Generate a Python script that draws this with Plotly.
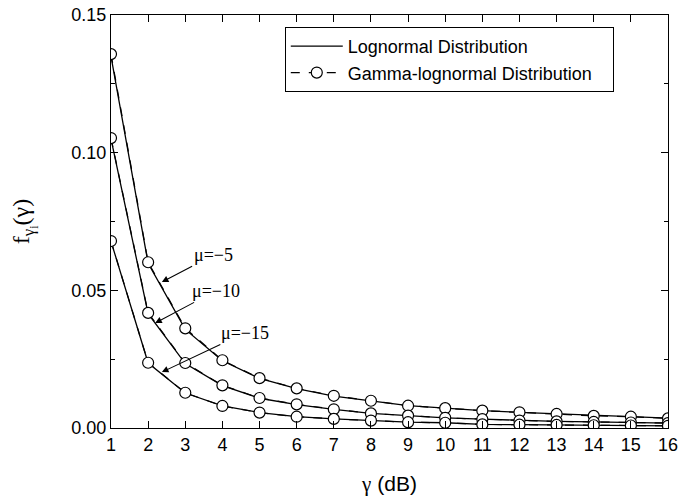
import plotly.graph_objects as go

gamma_db = list(range(1, 17))

logn_mu5 = [0.1350, 0.0598, 0.0358, 0.0244, 0.0180, 0.0143, 0.0116, 0.0098, 0.0081, 0.0072, 0.0063, 0.0057, 0.0051, 0.0045, 0.0041, 0.0036]
logn_mu10 = [0.1050, 0.0415, 0.0234, 0.0154, 0.0108, 0.0085, 0.0068, 0.0053, 0.0045, 0.0037, 0.0032, 0.0027, 0.0024, 0.0022, 0.0020, 0.0018]
logn_mu15 = [0.0678, 0.0236, 0.0127, 0.0080, 0.0056, 0.0041, 0.0033, 0.0027, 0.0021, 0.0019, 0.0013, 0.0012, 0.0011, 0.0010, 0.0009, 0.0008]

gl_mu5 = [0.1358, 0.0602, 0.0362, 0.0246, 0.0181, 0.0144, 0.0117, 0.0099, 0.0081, 0.0072, 0.0063, 0.0057, 0.0051, 0.0044, 0.0041, 0.0035]
gl_mu10 = [0.1053, 0.0418, 0.0236, 0.0155, 0.0109, 0.0086, 0.0068, 0.0053, 0.0045, 0.0037, 0.0032, 0.0027, 0.0024, 0.0022, 0.0020, 0.0018]
gl_mu15 = [0.0679, 0.0237, 0.0128, 0.0080, 0.0056, 0.0041, 0.0033, 0.0027, 0.0021, 0.0019, 0.0013, 0.0012, 0.0011, 0.0010, 0.0009, 0.0008]

labels = ["μ=−5", "μ=−10", "μ=−15"]
arrow_x = [2.37, 2.19, 2.37]
arrow_y = [0.053, 0.0381, 0.0203]
text_x = [3.75, 3.82, 4.60]
text_y = [0.0628, 0.0498, 0.0345]

fig = go.Figure()
logn = [logn_mu5, logn_mu10, logn_mu15]
gl = [gl_mu5, gl_mu10, gl_mu15]
for i in range(3):
    fig.add_trace(go.Scatter(
        x=gamma_db, y=logn[i], mode="lines",
        line=dict(color="black", width=1.3),
        name="Lognormal Distribution\u00a0\u00a0\u00a0", showlegend=(i == 0), legendrank=1))
for i in range(3):
    fig.add_trace(go.Scatter(
        x=gamma_db, y=gl[i], mode="lines+markers",
        line=dict(color="black", width=1.2, dash="dash"),
        marker=dict(symbol="circle", size=11, color="white", line=dict(color="black", width=1.2)),
        name="Gamma-lognormal Distribution\u00a0\u00a0\u00a0", showlegend=(i == 0), legendrank=2))

for i in range(3):
    fig.add_annotation(
        x=arrow_x[i], y=arrow_y[i], ax=text_x[i], ay=text_y[i],
        axref="x", ayref="y", xref="x", yref="y",
        text=labels[i], showarrow=True, arrowhead=2, arrowsize=1.2, arrowwidth=1.1,
        arrowcolor="black", standoff=0,
        font=dict(family="Liberation Serif", size=18, color="black"))

axis_common = dict(
    showline=True, linecolor="black", linewidth=1.2, mirror="ticks",
    ticks="inside", ticklen=7, tickwidth=1, tickcolor="black",
    showgrid=False, zeroline=False, automargin=False,
    tickfont=dict(family="Liberation Sans", size=18, color="black"),
)

fig.update_xaxes(range=[1, 16], dtick=1, tick0=1,
                 title=dict(text="<span style='font-family:Liberation Serif'>γ</span> (dB)",
                            font=dict(family="Liberation Sans", size=21, color="black"), standoff=22),
                 **axis_common)
fig.update_yaxes(range=[0, 0.15], dtick=0.05, tickformat=".2f",
                 minor=dict(dtick=0.025, ticks="inside", ticklen=4, tickcolor="black", showgrid=False),
                 title=dict(text="f<sub>γ<sub>i</sub></sub>(γ)",
                            font=dict(family="Liberation Serif", size=24, color="black"), standoff=34),
                 **axis_common)

fig.update_layout(
    width=680, height=502,
    margin=dict(l=111, r=12, t=15, b=74, autoexpand=False),
    plot_bgcolor="white", paper_bgcolor="white",
    legend=dict(x=0.312, y=0.971, xanchor="left", yanchor="top",
                bordercolor="black", borderwidth=1, bgcolor="white",
                font=dict(family="Liberation Sans", size=18, color="black"),
                tracegroupgap=0, itemwidth=52),
)

fig.write_html("out.html", config={"displayModeBar": False},
               post_script="document.body.style.margin='0';document.body.style.overflow='hidden';")
